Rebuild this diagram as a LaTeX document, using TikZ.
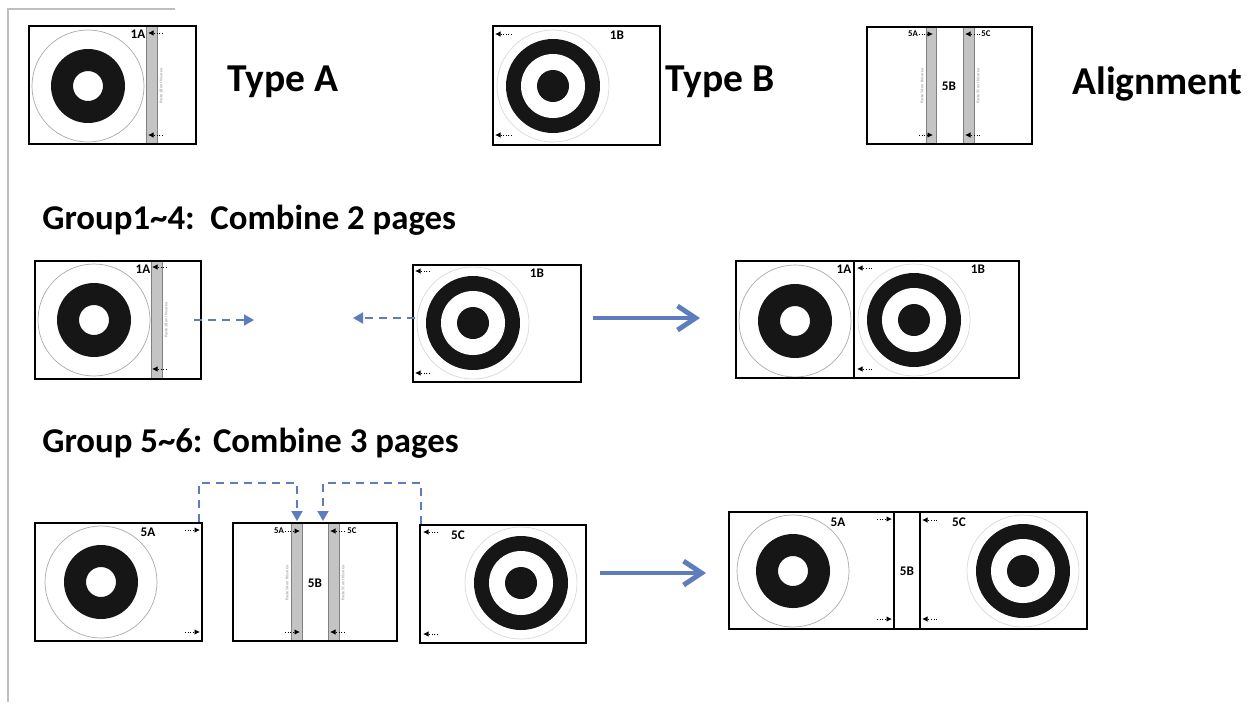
\documentclass[tikz,border=0pt]{standalone}
\usepackage{fontspec}
\setmainfont{Carlito}
\usetikzlibrary{arrows.meta,fit}
\definecolor{flow}{RGB}{93,125,190}
\definecolor{ink}{RGB}{22,22,22}
\definecolor{ringgray}{RGB}{170,170,170}
\definecolor{stripgray}{RGB}{196,196,196}
\definecolor{frame}{RGB}{190,190,190}

% the two target prints, centred at #1
\newcommand{\ringA}[1]{%
  \draw[ringgray, line width=0.4pt] #1 circle[radius=56];
  \fill[ink, even odd rule] #1 circle[radius=37] #1 circle[radius=15];}
\newcommand{\ringB}[1]{%
  \draw[ringgray!45, line width=0.4pt] #1 circle[radius=56];
  \fill[ink] #1 circle[radius=47];
  \fill[white] #1 circle[radius=32];
  \fill[ink] #1 circle[radius=16];}
% paste strip from x=#1 to x=#2, y=#3 to y=#4
\newcommand{\pastestrip}[4]{%
  \filldraw[fill=stripgray, draw=gray, line width=0.3pt] (#1,#3) rectangle (#2,#4);}

\begin{document}
\begin{tikzpicture}[x=0.2mm, y=-0.2mm,
  card/.style={draw, line width=1.4pt, inner sep=0pt},
  lbl/.style={font=\fontsize{7.5}{8}\selectfont\bfseries, inner sep=0pt},
  tinylbl/.style={font=\fontsize{5}{6}\selectfont\bfseries, inner sep=0pt},
  paste/.style={font=\fontsize{2.3}{3}\selectfont, text=gray, rotate=90, inner sep=0pt},
  title/.style={font=\fontsize{22.5}{26}\selectfont\bfseries, anchor=base west, inner sep=0pt},
  heading/.style={font=\fontsize{19.8}{23}\selectfont\bfseries, anchor=base west, inner sep=0pt},
  guide/.style={densely dotted, line width=0.5pt, -{Latex[length=1.1mm,width=1.1mm]}},
  dashflow/.style={flow, line width=1.1pt, dash pattern=on 1.6mm off 1.2mm,
                   -{Triangle[length=2mm,width=2.2mm]}},
  bigflow/.style={flow, line width=2.8pt, -{Straight Barb[length=3.6mm,width=4.8mm]}},
]
\useasboundingbox (0,0) rectangle (1249,702);
\draw[frame, line width=0.8pt] (175,9) -- (8,9) -- (8,702);

% ---- top row: the three page types
\ringA{(88,86)}
\pastestrip{146}{157}{26}{144}
\node[card, fit={(29,26) (196,144)}] (typeA) {};
\node[lbl] (typeA1) at (138,34) {1A};
\node[paste] (typeAp) at (161,86) {Paste 1B on this area};
\draw[guide] (163,33) -- (148,33);
\draw[guide] (163,135) -- (148,135);
\node[title] (tA) at (227,91) {Type A};

\ringB{(553,86)}
\node[card, fit={(493,26) (660,145)}] (typeB) {};
\node[lbl] (typeB1) at (617,35) {1B};
\draw[guide] (512,34) -- (495,34);
\draw[guide] (512,135) -- (495,135);
\node[title] (tB) at (665,91) {Type B};

\pastestrip{926}{936}{27}{144}
\pastestrip{963}{974}{27}{144}
\node[card, fit={(867,27) (1032,144)}] (align) {};
\node[tinylbl] (al5A) at (913,34) {5A};
\node[tinylbl] (al5C) at (986,34) {5C};
\node[lbl] (al5B) at (949,86) {5B};
\node[paste] (alpA) at (922,86) {Paste 5A on this area};
\node[paste] (alpC) at (978,86) {Paste 5C on this area};
\draw[guide] (919,34) -- (933,34);
\draw[guide] (980,34) -- (965,34);
\draw[guide] (919,135) -- (933,135);
\draw[guide] (980,135) -- (965,135);
\node[title] (tAl) at (1072,94) {Alignment};

% ---- groups 1~4
\node[heading] (h1) at (42,229) {Group1\textasciitilde4:\ \ Combine 2 pages};

\ringA{(94,320)}
\pastestrip{151}{162}{261}{379}
\node[card, fit={(35,261) (201,379)}] (c1A) {};
\node[lbl] (c1A1) at (143,269) {1A};
\node[paste] (c1Ap) at (166,320) {Paste 1B on this area};
\draw[guide] (167,267) -- (152,267);
\draw[guide] (167,369) -- (152,369);

\ringB{(473,323)}
\node[card, fit={(413,265) (581,382)}] (c1B) {};
\node[lbl] (c1B1) at (537,273) {1B};
\draw[guide] (430,271) -- (415,271);
\draw[guide] (430,373) -- (415,373);

\ringA{(795,321)}
\ringB{(914,320)}
\node[card, fit={(736,261) (1019,378)}] (c12) {};
\draw[line width=1.4pt] (854,261) -- (854,378);
\node[lbl] (c12A) at (844,269) {1A};
\node[lbl] (c12B) at (978,269) {1B};
\draw[guide] (872,268) -- (857,268);
\draw[guide] (872,369) -- (857,369);

\coordinate (to1A) at (254,320);
\coordinate (to1B) at (353,318);
\coordinate (go1) at (593,318);
\coordinate (end1) at (700,318);
\draw[dashflow, shorten <=-1.6mm] (c1A.east) -- (to1A);
\draw[dashflow, shorten <=-0.6mm] (c1B.west |- to1B) -- (to1B);
\draw[bigflow] (go1) -- (end1);

% ---- groups 5~6
\node[heading] (h2) at (42,452) {Group 5\textasciitilde6: Combine 3 pages};

\ringA{(101,582)}
\node[card, fit={(35,523) (202,641)}] (c5A) {};
\node[lbl] (c5A1) at (148,532) {5A};
\draw[guide] (185,530) -- (200,530);
\draw[guide] (185,632) -- (200,632);

\pastestrip{291}{302}{523}{641}
\pastestrip{328}{339}{523}{641}
\node[card, fit={(233,523) (397,641)}] (c5B) {};
\node[tinylbl] (c5Ba) at (279,531) {5A};
\node[tinylbl] (c5Bc) at (352,531) {5C};
\node[lbl] (c5B1) at (315,583) {5B};
\node[paste] (c5Bpa) at (287,583) {Paste 5A on this area};
\node[paste] (c5Bpc) at (343,583) {Paste 5C on this area};
\draw[guide] (285,531) -- (300,531);
\draw[guide] (345,531) -- (330,531);
\draw[guide] (285,632) -- (300,632);
\draw[guide] (345,632) -- (330,632);

\ringB{(521,583)}
\node[card, fit={(420,525) (586,643)}] (c5C) {};
\node[lbl] (c5C1) at (458,535) {5C};
\draw[guide] (438,532) -- (423,532);
\draw[guide] (438,634) -- (423,634);

\ringA{(793,571)}
\ringB{(1023,571)}
\node[card, fit={(729,512) (1087,629)}] (c56) {};
\draw[line width=1.4pt] (894,512) -- (894,629);
\draw[line width=1.4pt] (920,512) -- (920,629);
\node[lbl] (c56A) at (838,522) {5A};
\node[lbl] (c56B) at (907,571) {5B};
\node[lbl] (c56C) at (959,522) {5C};
\draw[guide] (877,519) -- (892,519);
\draw[guide] (877,619) -- (892,619);
\draw[guide] (937,520) -- (922,520);
\draw[guide] (937,619) -- (922,619);

\coordinate (in5A) at (297,521);
\coordinate (in5C) at (323,521);
\coordinate (go2) at (600,573);
\coordinate (end2) at (706,573);
\draw[dashflow] ([xshift=-0.8mm]c5A.north east) -- ++(0,-39) -| (in5A);
\draw[dashflow] ([xshift=0.4mm]c5C.north west) -- ++(0,-41) -| (in5C);
\draw[bigflow] (go2) -- (end2);
\end{tikzpicture}
\end{document}
